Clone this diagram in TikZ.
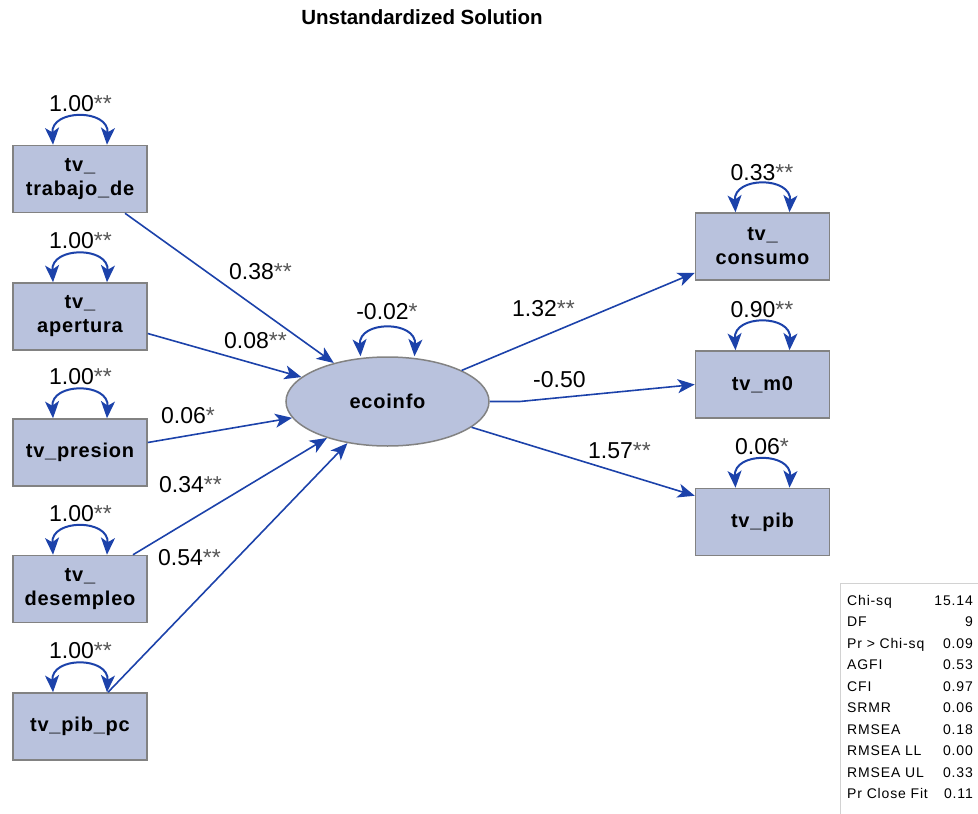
\documentclass[tikz,border=0pt]{standalone}
\usepackage{fontspec}
\setmainfont{Liberation Sans}
\newfontfamily\boxfont[LetterSpace=4]{Liberation Sans}
\newfontfamily\tablefont[LetterSpace=6]{Liberation Sans}
\usetikzlibrary{arrows.meta,shapes.geometric}
\definecolor{boxfill}{RGB}{185,194,221}
\definecolor{boxline}{RGB}{130,130,130}
\definecolor{pathblue}{RGB}{28,66,170}
\definecolor{stargray}{RGB}{85,85,85}
\definecolor{tableline}{RGB}{210,210,210}
\newcommand\signif[1]{{\color{stargray}#1}}

\begin{document}
\begin{tikzpicture}[x=1pt,y=-1pt,
  obs/.style={draw=boxline,line width=1.5pt,fill=boxfill,minimum width=134pt,
    minimum height=67pt,inner sep=0pt,align=center,
    font=\boxfont\fontsize{20}{24}\selectfont\bfseries},
  lat/.style={ellipse,draw=boxline,line width=1.5pt,fill=boxfill,
    minimum width=203pt,minimum height=89pt,inner sep=0pt,
    font=\boxfont\fontsize{20}{24}\selectfont\bfseries},
  path/.style={draw=pathblue,line width=1.6pt,-{Stealth[length=17pt,width=14pt,inset=4.5pt]}},
  var/.style={draw=pathblue,line width=2pt,
    {Stealth[length=17pt,width=14pt,inset=4.5pt]}-{Stealth[length=17pt,width=14pt,inset=4.5pt]}},
  coef/.style={font=\fontsize{23}{26}\selectfont,inner sep=0pt,anchor=base west},
  varlab/.style={font=\fontsize{23}{26}\selectfont,inner sep=0pt,anchor=base},
  fitkey/.style={font=\tablefont\fontsize{14}{16}\selectfont,inner sep=0pt,anchor=base west},
  fitval/.style={font=\tablefont\fontsize{14}{16}\selectfont,inner sep=0pt,anchor=base east}
]
\useasboundingbox (0,0) rectangle (978,814);

% title
\node[font=\fontsize{20.5}{24}\selectfont\bfseries,inner sep=0pt,anchor=base] (title) at (422,24) {Unstandardized Solution};

% observed exogenous variables
\node[obs] (b1) at (80,179)   {tv\_\\trabajo\_de};
\node[obs] (b2) at (80,316.5) {tv\_\\apertura};
\node[obs] (b3) at (80,452.5) {tv\_presion};
\node[obs] (b4) at (80,589)   {tv\_\\desempleo};
\node[obs] (b5) at (80,726.5) {tv\_pib\_pc};

% latent factor
\node[lat] (eco) at (387.5,401.5) {ecoinfo};

% observed endogenous variables
\node[obs] (c1) at (762.5,246.5) {tv\_\\consumo};
\node[obs] (c2) at (762.5,384.5) {tv\_m0};
\node[obs] (c3) at (762.5,522)   {tv\_pib};

% variance loops
\foreach \n in {b1,b2,b3,b4,b5,c1,c2,c3,eco}{
  \draw[var] ([xshift=-27pt]\n.north) .. controls +(-2,-36) and +(2,-36) .. ([xshift=27pt]\n.north);
}

% structural paths
\draw[path] ([xshift=45pt]b1.south) -- (eco);
\draw[path] ([yshift=-17pt]b2.east) -- (eco);
\draw[path] ([yshift=10pt]b3.east) -- (eco);
\draw[path] ([xshift=53pt]b4.north) -- (eco);
\draw[path] ([xshift=28pt]b5.north) -- (eco);
\draw[path] (eco) -- ([yshift=8pt]c1.south west);
\draw[path] (eco.east) -- ++(30,0) -- (c2.west);
\draw[path] (eco) -- ([yshift=-8pt]c3.north west);

% path coefficients
\node[coef] (k1) at (229,279) {0.38\signif{**}};
\node[coef] (k2) at (224,348) {0.08\signif{**}};
\node[coef] (k3) at (161,423) {0.06\signif{*}};
\node[coef] (k4) at (159,492) {0.34\signif{**}};
\node[coef] (k5) at (158,565) {0.54\signif{**}};
\node[coef] (k6) at (512,316) {1.32\signif{**}};
\node[coef] (k7) at (533,387) {-0.50};
\node[coef] (k8) at (588,458) {1.57\signif{**}};

% variance estimates
\node[varlab] (v1) at (80.5,111) {1.00\signif{**}};
\node[varlab] (v2) at (80.5,248) {1.00\signif{**}};
\node[varlab] (v3) at (80.5,384) {1.00\signif{**}};
\node[varlab] (v4) at (80.5,521) {1.00\signif{**}};
\node[varlab] (v5) at (80.5,658) {1.00\signif{**}};
\node[varlab] (v6) at (762,180) {0.33\signif{**}};
\node[varlab] (v7) at (762,317) {0.90\signif{**}};
\node[varlab] (v8) at (762,454) {0.06\signif{*}};
\node[varlab] (v9) at (387,319) {-0.02\signif{*}};

% fit statistics table
\draw[tableline,line width=1pt] (840,814) |- (978,583);
\foreach \key/\val [count=\i from 0] in {Chi-sq/15.14, DF/9, Pr > Chi-sq/0.09,
    AGFI/0.53, CFI/0.97, SRMR/0.06, RMSEA/0.18, RMSEA LL/0.00,
    RMSEA UL/0.33, Pr Close Fit/0.11}{
  \node[fitkey] (fk\i) at (847,605+21.55*\i) {\key};
  \node[fitval] (fv\i) at (973,605+21.55*\i) {\val};
}
\end{tikzpicture}
\end{document}
